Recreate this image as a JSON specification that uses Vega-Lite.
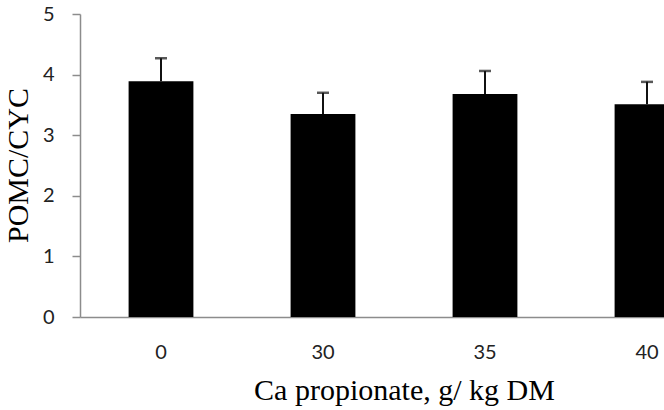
{
  "$schema": "https://vega.github.io/schema/vega-lite/v6.json",
  "autosize": "none",
  "padding": {"left": 80, "top": 14, "right": 0, "bottom": 93},
  "width": 584,
  "height": 303,
  "background": "white",
  "config": {"view": {"stroke": null}},
  "data": {"values": [
    {"dose": "0", "ratio": 3.89, "upper": 4.27},
    {"dose": "30", "ratio": 3.35, "upper": 3.70},
    {"dose": "35", "ratio": 3.68, "upper": 4.06},
    {"dose": "40", "ratio": 3.51, "upper": 3.88}
  ]},
  "encoding": {
    "x": {
      "field": "dose", "type": "nominal", "sort": null,
      "scale": {"range": [0, 648], "paddingInner": 0.6, "paddingOuter": 0.3},
      "axis": {
        "title": "Ca propionate, g/ kg DM",
        "titleFont": "Liberation Serif", "titleFontSize": 30, "titleFontWeight": "normal", "titleColor": "#000",
        "titleX": 324, "titleY": 82, "titleBaseline": "alphabetic", "titleAnchor": "middle", "titleAlign": "center",
        "labelFont": "Lato", "labelFontSize": 20, "labelColor": "#222", "labelAngle": 0,
        "labelPadding": 25, "ticks": false,
        "domainColor": "#8c8c8c", "domainWidth": 1.5
      }
    }
  },
  "layer": [
    {
      "mark": {"type": "bar", "color": "#000"},
      "encoding": {
        "y": {
          "field": "ratio", "type": "quantitative",
          "scale": {"domain": [0, 5], "nice": false},
          "axis": {
            "title": "POMC/CYC", "values": [0, 1, 2, 3, 4, 5], "format": "d", "grid": false,
            "titleFont": "Liberation Serif", "titleFontSize": 30, "titleFontWeight": "normal", "titleColor": "#000",
            "titleX": -62, "titleY": 151, "titleAngle": -90, "titleBaseline": "middle", "titleAlign": "center",
            "labelFont": "Lato", "labelFontSize": 20, "labelColor": "#222", "labelPadding": 18,
            "tickSize": 8, "tickColor": "#8c8c8c", "tickWidth": 1.5,
            "domainColor": "#8c8c8c", "domainWidth": 1.5
          }
        }
      }
    },
    {
      "mark": {"type": "rule", "color": "#111", "strokeWidth": 2},
      "encoding": {
        "y": {"field": "ratio", "type": "quantitative"},
        "y2": {"field": "upper"}
      }
    },
    {
      "mark": {"type": "tick", "color": "#111", "size": 12, "thickness": 2.5, "orient": "horizontal"},
      "encoding": {
        "y": {"field": "upper", "type": "quantitative"}
      }
    }
  ]
}
